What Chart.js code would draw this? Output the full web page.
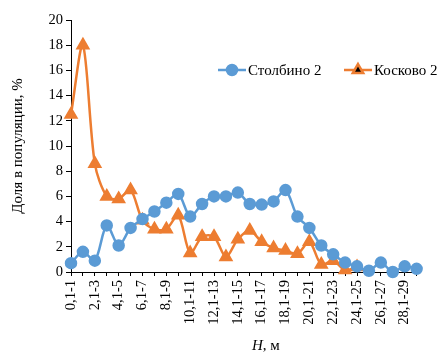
<!DOCTYPE html>
<html>
<head>
<meta charset="utf-8">
<script src="https://cdn.jsdelivr.net/npm/chart.js@4/dist/chart.umd.min.js"></script>
<style>
  html, body { margin: 0; padding: 0; background: #fff; overflow: hidden; }
  #wrap { width: 438px; height: 354px; position: relative; }
</style>
</head>
<body>
<div id="wrap"><canvas id="line-chart"></canvas></div>
<script>
// height classes, 0,1-1 ... 29,1-30
var heightClasses = [];
for (var i = 0; i < 30; i++) {
    heightClasses.push(i + ",1-" + (i + 1));
}

var stolbino2 = [0.7, 1.6, 0.9, 3.7, 2.1, 3.5, 4.2, 4.8, 5.5, 6.2,
                 4.4, 5.4, 6.0, 6.0, 6.3, 5.4, 5.35, 5.6, 6.5, 4.4,
                 3.5, 2.1, 1.4, 0.75, 0.45, 0.1, 0.75, 0.0, 0.45, 0.25];

var koskovo2 = [12.5, 18.0, 8.6, 6.0, 5.8, 6.5, 4.1, 3.4, 3.4, 4.5,
                1.5, 2.8, 2.8, 1.2, 2.6, 3.3, 2.4, 1.9, 1.7, 1.45,
                2.4, 0.6, 0.9, 0.15, 0.4, null, null, null, null, null];

var yTicksMax = 20;
var yTicksStep = 2;

var blue = "#5B9BD5";
var orange = "#ED7D31";
var serif = "'Liberation Serif', 'Times New Roman', serif";

// legend drawn inside the plot, like the Excel original
var insideLegend = {
    id: "insideLegend",
    afterDraw: function (chart) {
        var ctx = chart.ctx;
        var items = [
            { x: 218, ds: chart.data.datasets[0] },
            { x: 344, ds: chart.data.datasets[1] }
        ];
        var y = 70;
        ctx.save();
        items.forEach(function (it) {
            ctx.strokeStyle = it.ds.borderColor;
            ctx.lineWidth = 2.5;
            ctx.beginPath();
            ctx.moveTo(it.x, y);
            ctx.lineTo(it.x + 28, y);
            ctx.stroke();
            Chart.helpers.drawPoint(ctx, {
                pointStyle: it.ds.pointStyle,
                radius: it.ds.pointRadius,
                borderWidth: 1
            }, it.x + 14, y);
            ctx.fillStyle = "#000";
            ctx.font = "15px " + serif;
            ctx.textBaseline = "middle";
            ctx.textAlign = "left";
            ctx.fillText(it.ds.label, it.x + 30, y + 1);
        });

        // x axis title: italic H
        var tx = 252, ty = 346;
        ctx.font = "italic 15px " + serif;
        ctx.fillText("H", tx, ty);
        var w = ctx.measureText("H").width;
        ctx.font = "15px " + serif;
        ctx.fillText(", м", tx + w, ty);
        ctx.restore();
    }
};

var lineChart = new Chart(document.getElementById("line-chart").getContext("2d"), {
    type: "line",
    data: {
        labels: heightClasses,
        datasets: [
            {
                label: "Столбино 2",
                data: stolbino2,
                borderColor: blue,
                backgroundColor: blue,
                pointBackgroundColor: blue,
                pointBorderColor: blue,
                pointStyle: "circle",
                pointRadius: 5,
                borderWidth: 2.5,
                tension: 0.3,
                clip: false,
                fill: false
            },
            {
                label: "Косково 2",
                data: koskovo2,
                borderColor: orange,
                backgroundColor: orange,
                pointBackgroundColor: orange,
                pointBorderColor: orange,
                pointStyle: "triangle",
                pointRadius: 6,
                borderWidth: 2.5,
                tension: 0.3,
                clip: false,
                fill: false
            }
        ]
    },
    options: {
        responsive: true,
        maintainAspectRatio: false,
        animation: false,
        layout: { padding: { top: 20, right: 5, bottom: 0, left: 0 } },
        plugins: {
            legend: { display: false },
            tooltip: { enabled: false }
        },
        scales: {
            x: {
                offset: false,
                afterFit: function (scale) { scale.height = 82; },
                grid: {
                    display: true,
                    drawOnChartArea: false,
                    drawTicks: true,
                    tickLength: 4,
                    color: "#000",
                    offset: false
                },
                border: { color: "#000", width: 1 },
                ticks: {
                    autoSkip: false,
                    minRotation: 90,
                    maxRotation: 90,
                    padding: 4,
                    color: "#000",
                    font: { family: serif, size: 14.5 },
                    callback: function (value, index) {
                        return index % 2 === 0 ? heightClasses[index] : "";
                    }
                }
            },
            y: {
                min: 0,
                max: yTicksMax,
                afterFit: function (scale) { scale.width = 71; },
                grid: {
                    display: true,
                    drawOnChartArea: false,
                    drawTicks: true,
                    tickLength: 5,
                    color: "#000"
                },
                border: { color: "#000", width: 1 },
                ticks: {
                    stepSize: yTicksStep,
                    padding: 3,
                    color: "#000",
                    font: { family: serif, size: 14.5 }
                },
                title: {
                    display: true,
                    text: "Доля в популяции, %",
                    color: "#000",
                    padding: { top: 9, bottom: 0 },
                    font: { family: serif, size: 15 }
                }
            }
        }
    },
    plugins: [insideLegend]
});
</script>
</body>
</html>
